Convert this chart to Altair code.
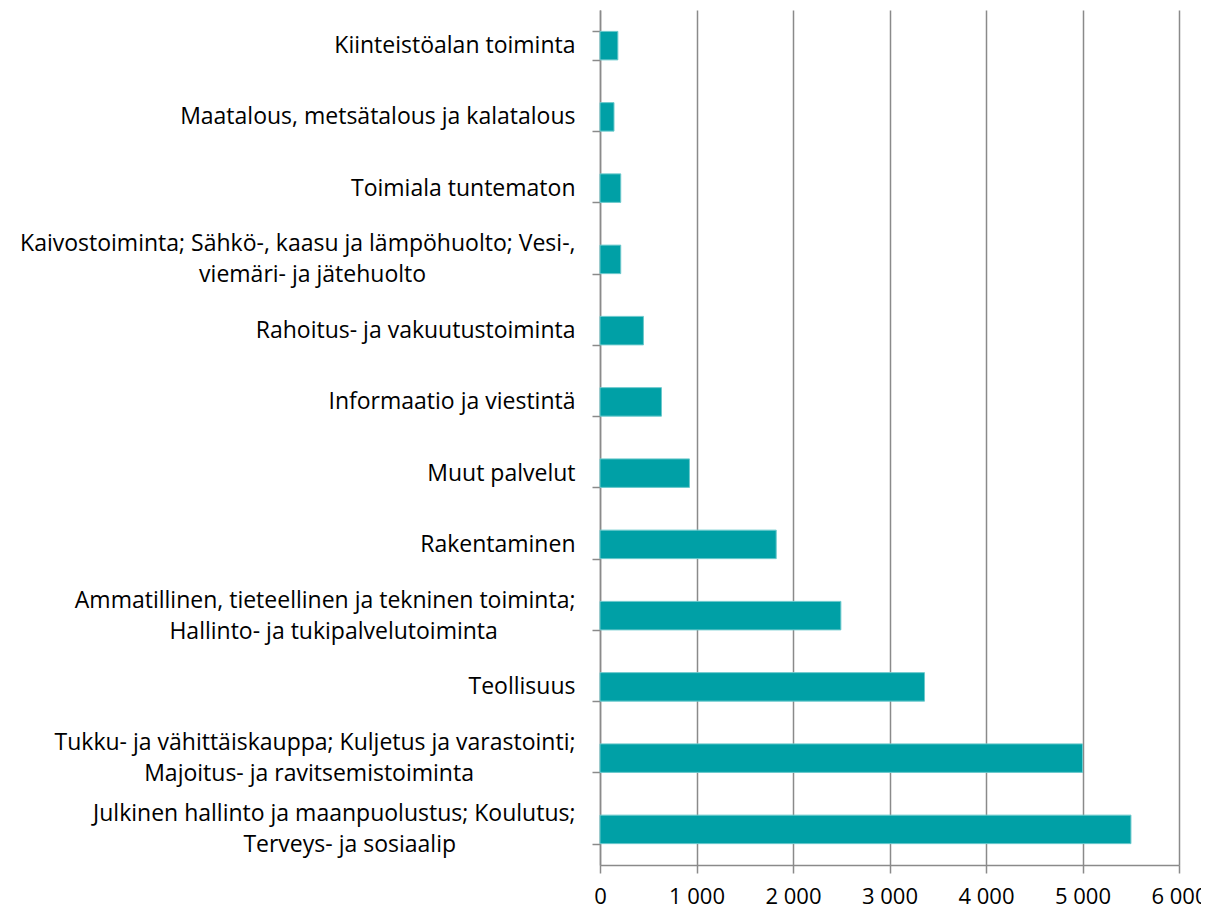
import altair as alt
import pandas as pd

# Categories top to bottom; "|" marks where the original label wraps
categories = [
    "Kiinteistöalan toiminta",
    "Maatalous, metsätalous ja kalatalous",
    "Toimiala tuntematon",
    "Kaivostoiminta; Sähkö-, kaasu ja lämpöhuolto; Vesi-,|viemäri- ja jätehuolto",
    "Rahoitus- ja vakuutustoiminta",
    "Informaatio ja viestintä",
    "Muut palvelut",
    "Rakentaminen",
    "Ammatillinen, tieteellinen ja tekninen toiminta;|Hallinto- ja tukipalvelutoiminta",
    "Teollisuus",
    "Tukku- ja vähittäiskauppa; Kuljetus ja varastointi;|Majoitus- ja ravitsemistoiminta",
    "Julkinen hallinto ja maanpuolustus; Koulutus;|Terveys- ja sosiaalip",
]
values = [185, 145, 215, 215, 450, 637, 927, 1826, 2496, 3363, 5000, 5502]
x_ticks = [0, 1000, 2000, 3000, 4000, 5000, 6000]

df = pd.DataFrame({"category": categories, "value": values})

FONT = "Open Sans"
GRAY = "#8a8a8a"
HALF_LINE = 15.5

# Labels are laid out on a half-line grid shifted up by one half line:
# single-line labels -> [blank, text] (centred), two-line labels -> [l1, blank, l2] (block centred).
# A zero-width space stands for a blank line so the line advance is kept.
# The second line gets trailing no-break spaces (kept by a zero-width space) so it sits
# roughly centred under the first line, as in the original.
ZW = "\u200b"
L1 = "split(datum.label,'|')[0]"
L2 = "split(datum.label,'|')[1]"
label_expr = (
    f"length(split(datum.label,'|')) > 1 ? "
    f"[{L1}, '{ZW}', pad({L2}, length({L2}) + floor((length({L1}) - length({L2})) * 0.85), '\u00a0') + '{ZW}'] "
    f": ['{ZW}', datum.label]"
)

chart = (
    alt.Chart(df)
    .mark_bar(color="#00A0A6", stroke="#6cc9cc", strokeWidth=1)
    .encode(
        x=alt.X(
            "value:Q",
            scale=alt.Scale(domain=[0, 6000], nice=False),
            axis=alt.Axis(
                values=x_ticks,
                title=None,
                grid=True,
                gridColor=GRAY,
                gridWidth=1.5,
                domainColor=GRAY,
                domainWidth=1.5,
                tickColor=GRAY,
                tickWidth=1.5,
                tickSize=8,
                labelPadding=13,
                labelFont=FONT,
                labelFontSize=22,
                labelColor="#000000",
                labelExpr="replace(format(datum.value, ','), ',', ' ')",
                labelFlush=False,
            ),
        ),
        y=alt.Y(
            "category:N",
            sort=categories,
            scale=alt.Scale(paddingInner=0.6, paddingOuter=0.3),
            axis=alt.Axis(
                title=None,
                tickBand="extent",
                domainColor=GRAY,
                domainWidth=1.5,
                tickColor=GRAY,
                tickWidth=1.5,
                tickSize=8,
                labelPadding=17,
                labelFont=FONT,
                labelFontSize=23,
                labelColor="#000000",
                labelLineHeight=HALF_LINE,
                labelOffset=-HALF_LINE,
                labelLimit=0,
                labelExpr=label_expr,
            ),
        ),
    )
    .properties(
        width=579,
        height=855,
        autosize=alt.AutoSizeParams(type="none"),
        padding={"left": 592, "top": 2, "right": 22, "bottom": 48},
    )
    .configure_view(stroke=None)
)

chart.save("out.html", embed_options={"renderer": "svg", "actions": False})
